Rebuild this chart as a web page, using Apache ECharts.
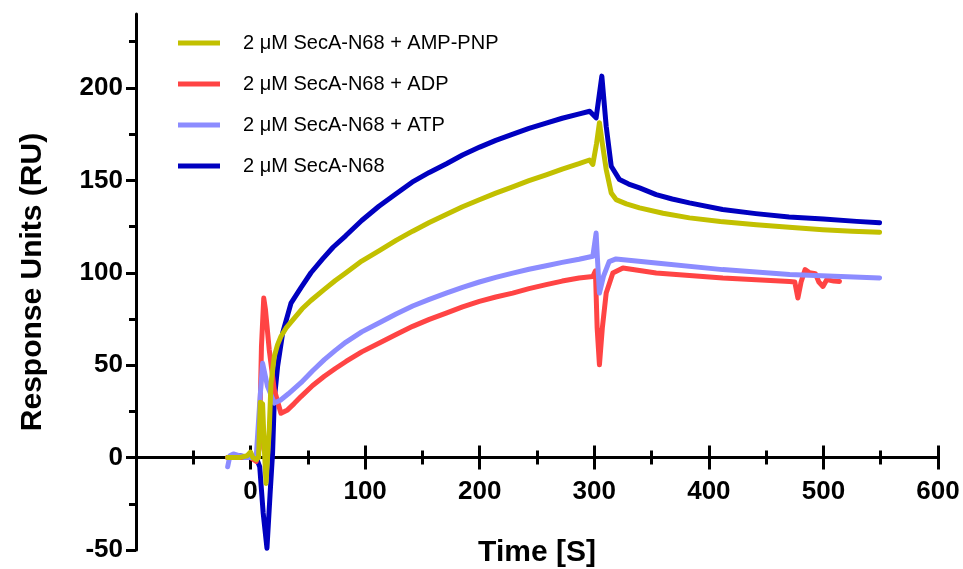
<!DOCTYPE html>
<html>
<head>
<meta charset="utf-8">
<script src="https://cdn.jsdelivr.net/npm/echarts@6/dist/echarts.min.js"></script>
<style>
html,body{margin:0;padding:0;background:#fff;}
#chart{width:963px;height:569px;}
</style>
</head>
<body>
<div id="chart"></div>
<script>
// ---- data ----
const seriesNames = ['2 \u03bcM SecA-N68 + AMP-PNP', '2 \u03bcM SecA-N68 + ADP', '2 \u03bcM SecA-N68 + ATP', '2 \u03bcM SecA-N68'];

const tAmp = [-20, -10, -3, 0, 2, 5, 7, 8.5, 10.5, 12, 13.5, 16.3, 17.8, 20.7, 23.5, 26.5, 30.9, 38.2, 45, 52.7, 64.4, 74, 83.3, 97, 112.4, 127, 141.5, 156, 170.7, 185, 199.7, 214, 228.8, 243, 258, 272, 286.7, 295.8, 298.7, 302, 304.5, 307, 310.4, 314.8, 319, 328, 339.5, 360, 383.1, 410, 441.4, 470, 499.5, 525, 549];
const vAmp = [0, 0, 1, 3, 0, -1, 0, 30, 29, 5, -14, 15, 40, 54.7, 61, 65.5, 70, 75.5, 80.5, 85, 91, 95.8, 100, 106.3, 112, 117.5, 122.5, 127.2, 131.5, 135.7, 139.5, 143.1, 146.5, 149.8, 153, 156.1, 159, 161, 158.6, 170, 181.2, 170, 155.9, 143.2, 139.6, 137.3, 135.1, 132.2, 129.7, 127.7, 126, 124.6, 123.3, 122.5, 121.9];

const tAdp = [-20, -10, 0, 5, 7.6, 9.5, 11.5, 13, 16.3, 20.7, 26.5, 32.3, 38, 44, 54.2, 64.4, 74, 83.3, 97, 112.4, 127, 141.5, 156, 170.7, 185, 199.7, 214, 228.8, 243, 258, 272, 286.7, 298.7, 301, 302.5, 304.5, 307, 310.4, 316.2, 325, 354, 412.2, 470.5, 475, 477.7, 480.5, 484, 488, 493, 496, 499.6, 503, 509, 514];
const vAdp = [0, 0, 0, -2, 5, 60, 86.3, 80, 58.3, 36.7, 24, 25.8, 29.2, 33, 39, 44, 48.2, 52, 57.2, 62, 66.6, 71, 74.8, 78.2, 81.5, 84.5, 86.9, 89, 91.4, 93.6, 95.5, 97.2, 98, 101, 70, 50.2, 70, 89, 99.9, 102.6, 99.9, 97.2, 95.3, 95, 86.3, 95, 101.7, 100, 99.5, 95, 92.6, 96.3, 95.5, 95.3];

const tAtp = [-20, -18, -15, -10, -5, 0, 5, 8, 10.5, 14.8, 20.7, 26, 33, 44, 54.2, 64.4, 74, 83.3, 97, 112.4, 127, 141.5, 156, 170.7, 185, 199.7, 214, 228.8, 243, 258, 272, 286.7, 298.7, 301.6, 303, 304.5, 308, 313, 319, 354, 412, 470.5, 549];
const vAtp = [-5, 1, 2, 1, 0, 0, 1, 30, 51, 38.5, 29.5, 31, 34.5, 40.5, 47, 53, 58, 62.5, 68, 73, 77.7, 82, 85.6, 89, 92.1, 95, 97.5, 99.8, 101.9, 103.8, 105.6, 107.3, 108.9, 121.5, 105, 89, 98, 106, 107.5, 105.3, 101.7, 99, 97.2];

const tApo = [-20, -10, 0, 5, 8, 11, 14.3, 17, 19.2, 20.7, 23.6, 28, 35.3, 44, 52.7, 62.9, 72, 83, 97, 112, 127, 141, 156, 171, 185, 200, 214, 229, 243, 258, 272, 287, 296, 301.6, 306.6, 310.4, 314.8, 322, 330, 339.5, 354, 368, 383, 412, 441, 470, 500, 529, 549];
const vApo = [0, 1, 0, 0, -5, -30, -49, -20, 2.4, 31.3, 49.3, 67.4, 83.6, 92, 100, 107.5, 113.8, 120, 128.3, 136, 142.8, 149, 154.3, 159, 163.7, 168, 171.6, 175, 178.1, 181, 183.6, 186, 187.4, 183.8, 206.4, 179.3, 157.6, 150.4, 148, 145.9, 142.3, 139.9, 137.8, 134.2, 132, 130.2, 129.1, 127.8, 127];

const yMajorTicks = [-50, 0, 50, 100, 150, 200];
const yMinorTicks = [-25, 25, 75, 125, 175, 225];

const colors = ['#C2C000', '#FF4444', '#8C8CFF', '#0000C0'];

function zip(t, v) { return t.map((x, i) => [x, v[i]]); }

const FONT = 'Liberation Sans, Arial, Helvetica, sans-serif';
const axisLineStyle = { color: '#000', width: 3 };

// grid geometry
const GRID_TOP = 14, GRID_BOTTOM = 19, CHART_H = 569;
const Y_MIN = -50, Y_MAX = 240;
const gridH = CHART_H - GRID_TOP - GRID_BOTTOM;
const zeroOffset = -(0 - Y_MIN) / (Y_MAX - Y_MIN) * gridH; // move label axis up to the zero line

function xTickAx(tickLen, inside, interval) {
  return {
    type: 'value', min: -100, max: 600, interval: interval,
    position: 'bottom',
    axisLine: { show: true, onZero: true, onZeroAxisIndex: 0, lineStyle: axisLineStyle },
    axisTick: { show: true, inside: inside, length: tickLen, lineStyle: { color: '#000', width: 3 } },
    axisLabel: { show: false },
    splitLine: { show: false }
  };
}

const chart = echarts.init(document.getElementById('chart'), null, { renderer: 'canvas' });

const mk = (idx, t, v, z) => ({
  name: seriesNames[idx], type: 'line', data: zip(t, v),
  xAxisIndex: 0, yAxisIndex: 0, showSymbol: false, symbol: 'none',
  smooth: false, z: z,
  lineStyle: { color: colors[idx], width: 5, cap: 'round', join: 'round' },
  itemStyle: { color: colors[idx] }
});

chart.setOption({
  animation: false,
  backgroundColor: '#fff',
  grid: { left: 136, right: 25, top: GRID_TOP, bottom: GRID_BOTTOM, containLabel: false, outerBoundsMode: 'none' },
  legend: {
    data: seriesNames, orient: 'vertical', left: 178, top: 33, padding: 0,
    icon: 'rect', itemWidth: 42, itemHeight: 5, itemGap: 21,
    textStyle: { color: '#000', fontSize: 20, fontFamily: FONT, padding: [0, 0, 0, 18] }
  },
  xAxis: [
    xTickAx(12, false, 100),
    xTickAx(12, true, 100),
    xTickAx(7, false, 50),
    xTickAx(7, true, 50),
    {
      type: 'value', min: -100, max: 600, interval: 100,
      position: 'bottom', offset: zeroOffset,
      axisLine: { show: false, onZero: false },
      axisTick: { show: false },
      axisLabel: { show: true, showMinLabel: false, margin: 21, color: '#000', fontSize: 26, fontWeight: 'bold', fontFamily: FONT },
      splitLine: { show: false },
      name: 'Time [S]', nameLocation: 'middle', nameGap: 80, nameMoveOverlap: false,
      nameTextStyle: { color: '#000', fontSize: 30, fontWeight: 'bold', fontFamily: FONT }
    }
  ],
  yAxis: [
    {
      type: 'value', min: Y_MIN, max: Y_MAX, position: 'left',
      name: 'Response Units (RU)', nameLocation: 'middle', nameGap: 88, nameMoveOverlap: false,
      nameTextStyle: { color: '#000', fontSize: 30, fontWeight: 'bold', fontFamily: FONT },
      axisLine: { show: true, onZero: false, lineStyle: axisLineStyle },
      axisTick: { show: true, length: 10, customValues: yMajorTicks, lineStyle: { color: '#000', width: 3 } },
      axisLabel: { customValues: yMajorTicks, margin: 13, color: '#000', fontSize: 26, fontWeight: 'bold', fontFamily: FONT },
      splitLine: { show: false }
    },
    {
      type: 'value', min: Y_MIN, max: Y_MAX, position: 'left',
      axisLine: { show: false, onZero: false },
      axisTick: { show: true, length: 7, customValues: yMinorTicks, lineStyle: { color: '#000', width: 3 } },
      axisLabel: { show: false },
      splitLine: { show: false }
    }
  ],
  series: [
    mk(3, tApo, vApo, 2),
    mk(1, tAdp, vAdp, 3),
    mk(2, tAtp, vAtp, 4),
    mk(0, tAmp, vAmp, 5)
  ]
});
</script>
</body>
</html>
